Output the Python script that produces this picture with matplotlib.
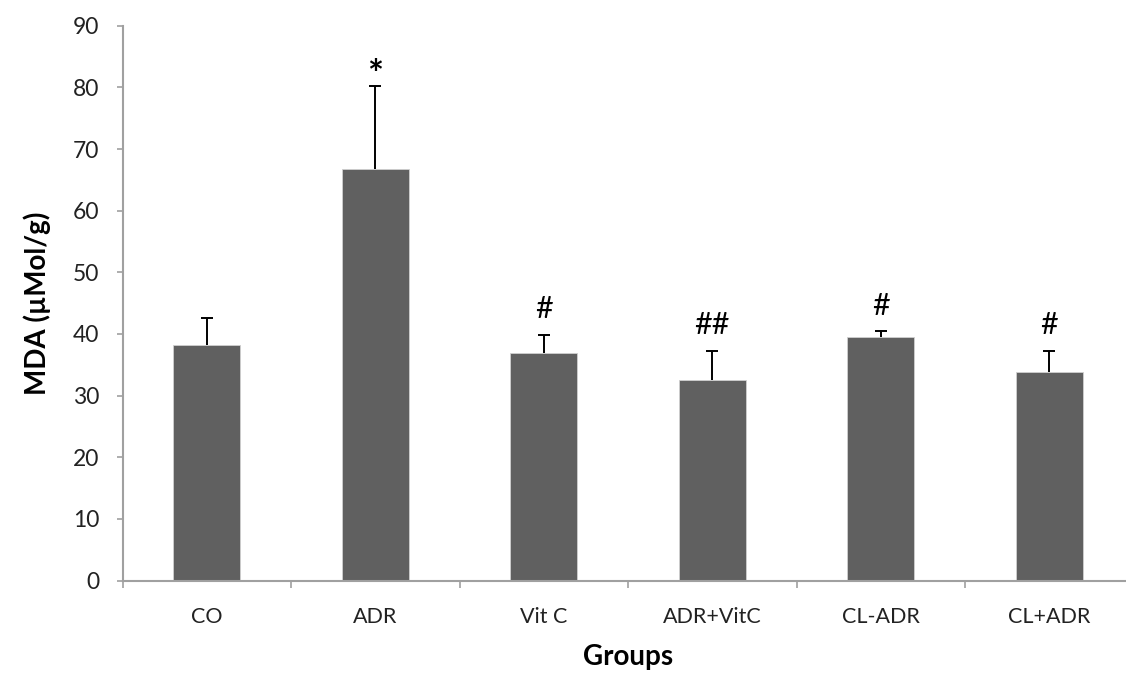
import matplotlib
matplotlib.use("Agg")
import matplotlib.pyplot as plt

groups = ["CO", "ADR", "Vit C", "ADR+VitC", "CL-ADR", "CL+ADR"]
mda = [38.2, 66.8, 36.9, 32.5, 39.5, 33.8]
sd = [4.4, 13.4, 2.9, 4.8, 0.9, 3.5]
marks = ["", "*", "#", "##", "#", "#"]

plt.rcParams["font.family"] = ["Lato", "DejaVu Sans"]

fig = plt.figure(figsize=(11.26, 6.73), dpi=100)
ax = fig.add_axes([0.1088, 0.1374, 0.8979, 0.8244])

x = list(range(len(groups)))
tops = [m + s for m, s in zip(mda, sd)]
ax.bar(x, mda, width=0.4, color="#606060", edgecolor="#d0d0d0", linewidth=0.6, zorder=2)
# upper error bars only
ax.vlines(x, mda, tops, color="black", linewidth=1.4, zorder=3)
ax.plot(x, tops, linestyle="none", marker="_", markersize=8, markeredgewidth=1.4,
        color="black", zorder=3)

for xi, t, mk in zip(x, tops, marks):
    if mk == "*":
        ax.text(xi, t + 1.7, mk, ha="center", va="center", fontsize=27, fontweight="bold")
    elif mk:
        ax.text(xi, t + 4.2, mk, ha="center", va="center", fontsize=22)

ax.set_xlim(-0.5, len(groups) - 0.5)
ax.set_ylim(0, 90)
ax.set_yticks(range(0, 91, 10))
ax.set_xticks([i - 0.5 for i in range(len(groups) + 1)])
ax.set_xticklabels([])
ax.set_xticks(x, minor=True)
ax.set_xticklabels(groups, minor=True)
ax.tick_params(axis="x", which="minor", length=0, pad=19, labelsize=15.5)
ax.tick_params(axis="x", which="major", length=5, color="#a0a0a0", width=1.2)
ax.tick_params(axis="y", length=4.5, color="#a0a0a0", width=1.2, labelsize=16.5, pad=12,
               labelcolor="#222222")
ax.tick_params(axis="x", which="minor", labelcolor="#222222")

for side in ["top", "right"]:
    ax.spines[side].set_visible(False)
for side in ["left", "bottom"]:
    ax.spines[side].set_color("#a0a0a0")
    ax.spines[side].set_linewidth(1.5)

ax.set_ylabel("MDA (µMol/g)", fontsize=20, fontweight="bold", labelpad=16)
ax.set_xlabel("Groups", fontsize=20, fontweight="bold", labelpad=12)

fig.savefig("out.png", dpi=100)
